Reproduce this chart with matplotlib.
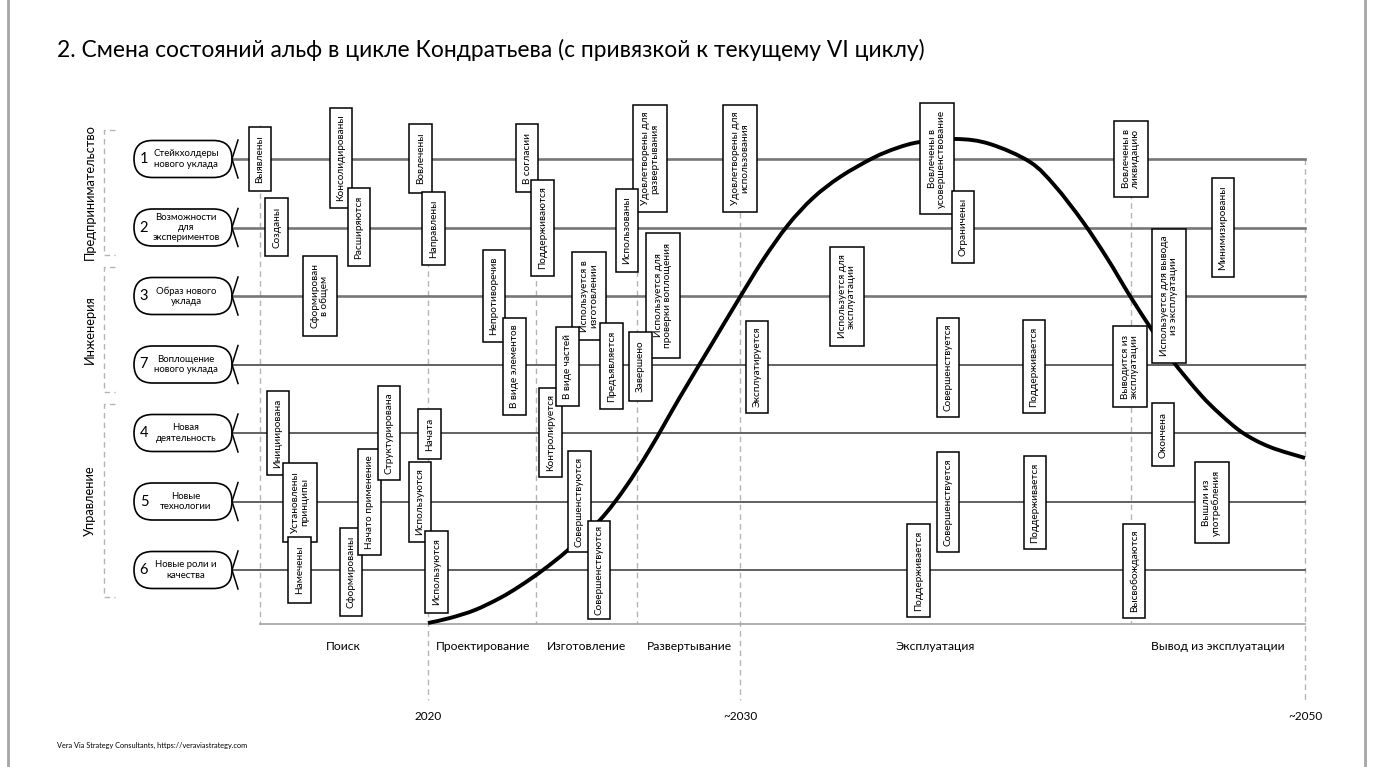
import matplotlib
matplotlib.use("Agg")
import matplotlib.pyplot as plt
from matplotlib.patches import Rectangle, FancyBboxPatch, PathPatch
from matplotlib.path import Path

plt.rcParams['font.family'] = ['Lato', 'Roboto', 'DejaVu Sans']

# ---------------- data ----------------
title = "2. Смена состояний альф в цикле Кондратьева (с привязкой к текущему VI циклу)"
footer = "Vera Via Strategy Consultants, https://veraviastrategy.com"

lane_numbers = [1, 2, 3, 7, 4, 5, 6]
lane_names = ["Стейкхолдеры\nнового уклада", "Возможности\nдля\nэкспериментов",
              "Образ нового\nуклада", "Воплощение\nнового уклада",
              "Новая\nдеятельность", "Новые\nтехнологии", "Новые роли и\nкачества"]

group_names = ["Предпринимательство", "Инженерия", "Управление"]
group_lanes = [(1, 2), (3, 7), (4, 6)]

phase_names = ["Поиск", "Проектирование", "Изготовление", "Развертывание",
               "Эксплуатация", "Вывод из эксплуатации"]
year_labels = ["2020", "~2030", "~2050"]

# states: lane number, state text
state_lane = [1, 2, 1, 2, 3, 4, 5, 6, 6, 5, 4, 1, 2, 4, 5, 6, 3, 7, 1, 2, 4,
              3, 7, 5, 6, 7, 1, 2, 3, 7, 1, 7, 3, 1, 2, 7, 5, 6, 7, 5, 1, 2,
              3, 7, 4, 5, 6]
state_text = ["Выявлены", "Созданы", "Консолидированы", "Расширяются",
              "Сформирован\nв общем", "Инициирована", "Установлены\nпринципы",
              "Намечены", "Сформированы", "Начато применение", "Структурирована",
              "Вовлечены", "Направлены", "Начата", "Используются", "Используются",
              "Непротиворечив", "В виде элементов", "В согласии", "Поддерживаются",
              "Контролируется", "Используется в\nизготовлении", "В виде частей",
              "Совершенствуются", "Совершенствуются", "Предъявляется",
              "Удовлетворены для\nразвертывания", "Использованы",
              "Используется для\nпроверки воплощения", "Завершено",
              "Удовлетворены для\nиспользования", "Эксплуатируется",
              "Используется для\nэксплуатации", "Вовлечены в\nусовершенствование",
              "Ограничены", "Совершенствуется", "Совершенствуется", "Поддерживается",
              "Поддерживается", "Поддерживается", "Вовлечены в\nликвидацию",
              "Минимизированы", "Используется для вывода\nиз эксплуатации",
              "Выводится из\nэксплуатации", "Окончена", "Вышли из\nупотребления",
              "Высвобождаются"]

# wave curve (Kondratiev cycle), canvas units
wave_x = [428, 450, 475, 500, 520, 543, 568, 600, 625, 650, 680, 710, 737, 763,
          788, 813, 840, 873, 897, 920, 957, 990, 1030, 1055, 1083, 1107, 1130,
          1152, 1172, 1200, 1220, 1243, 1270, 1305]
wave_y = [623, 618, 610, 598, 586, 570, 550, 520, 488, 449, 397, 347, 302, 260,
          225, 198, 177, 158, 148, 142, 139, 144, 162, 186, 222, 258, 296, 330,
          360, 394, 414, 433, 447, 458]

# ---------------- layout ----------------
lane_y = [159, 227.5, 296, 364.5, 433, 501.5, 570]
state_x = [260, 276.5, 341, 359, 320, 278, 300, 299.5, 351, 369.5, 389, 420.5,
           433.5, 429.5, 420, 436.5, 494, 514.5, 527, 542.5, 550.5, 589, 567.5,
           579.5, 599, 611.5, 650, 627, 663, 640.5, 740, 757, 847, 937, 963, 948,
           948, 918.5, 1034, 1035, 1131, 1223, 1169, 1130, 1163, 1211.5, 1134]
state_top = [127, 198, 108, 188, 256, 391, 463, 537, 528, 449, 386, 124, 192, 409,
             462, 531, 250, 318, 124, 180, 388, 252, 327, 451, 521, 323, 105, 189,
             233, 332, 105, 321, 247, 103, 191, 318, 452, 524, 320, 456, 121, 178,
             229, 326, 403, 462, 524]
state_bot = [191, 256, 208, 266, 336, 475, 542, 603, 616, 555, 480, 193, 265, 459,
             542, 613, 342, 415, 192, 276, 477, 340, 406, 552, 619, 409, 212, 272,
             358, 401, 212, 413, 346, 214, 263, 417, 552, 617, 413, 549, 197, 277,
             363, 407, 466, 543, 618]

phase_bounds = [260, 428, 536, 637, 740, 1131, 1305]
year_x = [428, 740, 1305]
phase_label_x = [343, 483, 587, 689, 935, 1218]
x_left, x_right = 232, 1305
axis_y = 624

W, H = 1373, 767
fig = plt.figure(figsize=(W / 100, H / 100), dpi=100)
ax = fig.add_axes([0, 0, 1, 1])
ax.set_xlim(0, W)
ax.set_ylim(H, 0)
ax.axis('off')

# frame
ax.plot([7.5, 7.5], [0, H], color='#a6a6a6', lw=2, zorder=1)
ax.plot([1365, 1365], [0, H], color='#a6a6a6', lw=2, zorder=1)

# title & footer
ax.text(57, 50, title, fontsize=16.4, ha='left', va='center', color='black')
ax.text(57, 745, footer, fontsize=5.3, ha='left', va='center', color='black')

# phase boundaries (dashed)
dash_kw = dict(color='#b4b4b4', lw=1, dashes=(4, 3), zorder=1)
for xb in phase_bounds:
    top = 159 if xb == 1305 else 125
    bottom = 700 if xb in year_x else axis_y
    ax.plot([xb, xb], [top, bottom], **dash_kw)

# time axis
ax.plot([260, 1305], [axis_y, axis_y], color='#a8a8a8', lw=1.3, zorder=2)
for name, px in zip(phase_names, phase_label_x):
    ax.text(px, 647, name, fontsize=8.7, ha='center', va='center')
for lab, px in zip(year_labels, year_x):
    ax.text(px, 717, lab, fontsize=8.5, ha='center', va='center')

# groups
for gname, (a, b) in zip(group_names, group_lanes):
    ya = lane_y[lane_numbers.index(a)] - 29
    yb = lane_y[lane_numbers.index(b)] + 27
    gkw = dict(color='#b4b4b4', lw=1, dashes=(4, 3))
    ax.plot([115, 104, 104, 115], [ya, ya, yb, yb], **gkw)
    ax.text(90, (ya + yb) / 2, gname, rotation=90, fontsize=9.3,
            ha='center', va='center')

# lanes
for k, (num, name, y) in enumerate(zip(lane_numbers, lane_names, lane_y)):
    if k < 3:
        lcol, lw = '#767676', 1.9
    else:
        lcol, lw = '#555555', 1.3
    ax.plot([x_left, x_right], [y, y], color=lcol, lw=lw, zorder=3)
    pill = FancyBboxPatch((134, y - 18.5), 98, 37,
                          boxstyle="round,pad=0,rounding_size=18.5",
                          fc='white', ec='black', lw=1.2, zorder=4)
    ax.add_patch(pill)
    ax.plot([238, 232, 238], [y - 19, y, y + 19], color='black', lw=1.1, zorder=5)
    ax.text(144, y, str(num), fontsize=10.5, ha='center', va='center', zorder=6)
    ax.text(186, y, name, fontsize=6.9, ha='center', va='center',
            multialignment='center', linespacing=1.15, zorder=6)

# wave: smooth cubic curve through the read points (Catmull-Rom -> Bezier)
pts = list(zip(wave_x, wave_y))
verts = [pts[0]]
codes = [Path.MOVETO]
n = len(pts)
for i in range(n - 1):
    p0 = pts[i - 1] if i > 0 else pts[i]
    p1 = pts[i]
    p2 = pts[i + 1]
    p3 = pts[i + 2] if i + 2 < n else pts[i + 1]
    c1 = (p1[0] + (p2[0] - p0[0]) / 6, p1[1] + (p2[1] - p0[1]) / 6)
    c2 = (p2[0] - (p3[0] - p1[0]) / 6, p2[1] - (p3[1] - p1[1]) / 6)
    verts += [c1, c2, p2]
    codes += [Path.CURVE4] * 3
ax.add_patch(PathPatch(Path(verts, codes), fc='none', ec='black', lw=2.8,
                       capstyle='butt', zorder=5))

# state boxes
for i, (ln, txt, xc, t, b) in enumerate(zip(state_lane, state_text, state_x,
                                            state_top, state_bot)):
    nl = txt.count('\n') + 1
    w = 22.5 if nl == 1 else 34
    z = 10 + i * 0.01
    ax.add_patch(Rectangle((xc - w / 2, t), w, b - t, fc='white', ec='black',
                           lw=1.1, zorder=z))
    ax.text(xc, (t + b) / 2, txt, rotation=90, fontsize=7.2, ha='center',
            va='center', multialignment='center', linespacing=1.05,
            zorder=z + 0.005)

fig.savefig("out.png", dpi=100)
